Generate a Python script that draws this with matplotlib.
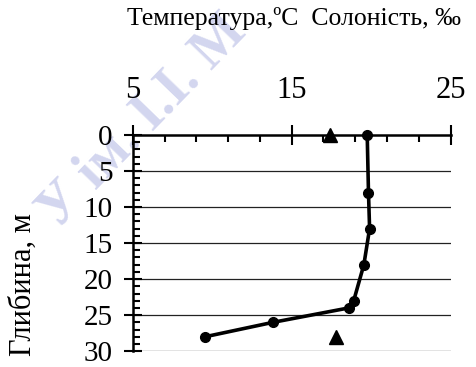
import numpy as np
import matplotlib
matplotlib.use("Agg")
import matplotlib.pyplot as plt
from matplotlib.ticker import FixedLocator, MultipleLocator

plt.rcParams['font.family'] = ['Liberation Serif', 'DejaVu Serif']

# temperature profile (circles) and salinity (triangles) vs depth
depth = [0, 8, 13, 18, 23, 24, 26, 28]
temperature = [19.75, 19.83, 19.9, 19.54, 18.9, 18.58, 13.81, 9.54]
sal_depth = [0, 28]
salinity = [17.4, 17.8]

x_ticks = [5, 15, 25]
y_ticks = [0, 5, 10, 15, 20, 25, 30]

fig = plt.figure(figsize=(4.76, 3.67), dpi=100)

# faint repository watermark, kept behind everything else
fig.text(0.30, 0.67, "У ім. І.І. М", fontsize=40, rotation=46,
         color="#d3d6ef", ha="center", va="center", zorder=-1,
         fontweight="bold")

ax = fig.add_axes([0.2788, 0.043, 0.668, 0.5894])
ax.patch.set_alpha(0)

for y in y_ticks[1:]:
    ax.axhline(y, color="#222222", lw=0.9, zorder=1)

ax.plot(temperature, depth, color="black", lw=2.6, marker="o", ms=7,
        clip_on=False, zorder=3)
ax.plot(salinity, sal_depth, ls="none", color="black", marker="^", ms=10,
        clip_on=False, zorder=3)

ax.set_xlim(5, 25)
ax.set_ylim(30, 0)

ax.xaxis.tick_top()
ax.set_xticks(x_ticks)
ax.xaxis.set_minor_locator(FixedLocator(np.arange(7, 25, 2)))
ax.set_yticks(y_ticks)
ax.yaxis.set_minor_locator(MultipleLocator(1))

ax.tick_params(axis="x", which="major", direction="inout", length=15, width=1.5,
               labelsize=22, pad=14)
ax.tick_params(axis="x", which="minor", direction="in", length=5, width=1.5)
ax.tick_params(axis="y", which="major", direction="inout", length=13, width=1.5,
               labelsize=21, pad=8)
ax.tick_params(axis="y", which="minor", direction="in", length=5, width=1.5)

for s in ["right", "bottom"]:
    ax.spines[s].set_visible(False)
for s in ["top", "left"]:
    ax.spines[s].set_linewidth(1.8)

fig.text(0.617, 0.932, "Температура,ºC  Солоність, ‰", fontsize=18.5,
         ha="center", va="baseline")
fig.text(0.05, 0.2234, "Глибина, м", fontsize=22, rotation=90,
         ha="center", va="center")

fig.savefig("out.png", dpi=100)
